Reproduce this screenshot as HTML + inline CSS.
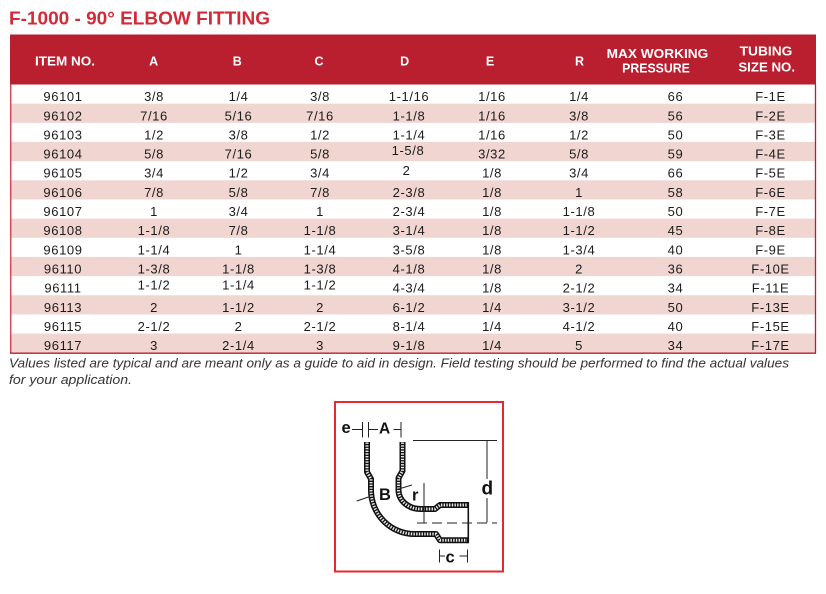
<!DOCTYPE html>
<html>
<head>
<meta charset="utf-8">
<style>
html,body{margin:0;padding:0;background:#fff;}
body{width:826px;height:594px;overflow:hidden;}
svg{display:block;}
.t{font-family:"Liberation Sans",Arial,sans-serif;}
.d{font-family:"Liberation Sans",Arial,sans-serif;font-size:13px;fill:#1c1c1c;letter-spacing:0.6px;text-anchor:middle;}
.h{font-family:"Liberation Sans",Arial,sans-serif;font-size:12.5px;font-weight:bold;fill:#fff;text-anchor:middle;}
.lbl{font-family:"Liberation Sans",Arial,sans-serif;font-weight:bold;fill:#111;}
</style>
</head>
<body>
<svg width="826" height="594" viewBox="0 0 826 594" xmlns="http://www.w3.org/2000/svg">
<rect x="0" y="0" width="826" height="594" fill="#fff"/>
<!-- Title -->
<text class="t" x="9" y="24.5" font-size="18.5" font-weight="bold" fill="#d32a37" textLength="261" lengthAdjust="spacingAndGlyphs">F-1000 - 90° ELBOW FITTING</text>

<!-- Header -->
<rect x="10" y="34.5" width="806" height="50" fill="#b91f2e"/>
<text class="h" x="65" y="65.5" textLength="60" lengthAdjust="spacingAndGlyphs">ITEM NO.</text>
<text class="h" x="153.7" y="65.5">A</text>
<text class="h" x="237.3" y="65.5">B</text>
<text class="h" x="319" y="65.5">C</text>
<text class="h" x="404.7" y="65.5">D</text>
<text class="h" x="490" y="65.5">E</text>
<text class="h" x="579.5" y="65.5">R</text>
<text class="h" x="657.5" y="58" textLength="101.6" lengthAdjust="spacingAndGlyphs">MAX  WORKING</text>
<text class="h" x="656" y="72.5" textLength="67.7" lengthAdjust="spacingAndGlyphs">PRESSURE</text>
<text class="h" x="766" y="55.5" textLength="52.7" lengthAdjust="spacingAndGlyphs">TUBING</text>
<text class="h" x="766.7" y="71.5" textLength="56.7" lengthAdjust="spacingAndGlyphs">SIZE NO.</text>

<!-- Row shading -->
<g fill="#f1d5d0">
<rect x="11" y="103.66" width="804" height="19.16"/>
<rect x="11" y="141.98" width="804" height="19.16"/>
<rect x="11" y="180.30" width="804" height="19.16"/>
<rect x="11" y="218.62" width="804" height="19.16"/>
<rect x="11" y="256.94" width="804" height="19.16"/>
<rect x="11" y="295.26" width="804" height="19.16"/>
<rect x="11" y="333.58" width="804" height="19.16"/>
</g>

<!-- Table borders -->
<line x1="10.7" y1="84.5" x2="10.7" y2="353.5" stroke="#d34b58" stroke-width="1.5"/>
<line x1="815.5" y1="84.5" x2="815.5" y2="353.5" stroke="#b81e2e" stroke-width="1.3"/>
<line x1="10" y1="353.2" x2="816" y2="353.2" stroke="#b81e2e" stroke-width="1.3"/>

<!-- Data rows -->
<g>
<text class="d" x="63" y="101.1">96101</text><text class="d" x="154" y="101.1">3/8</text><text class="d" x="238.5" y="101.1">1/4</text><text class="d" x="320" y="101.1">3/8</text><text class="d" x="409" y="101.1">1-1/16</text><text class="d" x="492" y="101.1">1/16</text><text class="d" x="579" y="101.1">1/4</text><text class="d" x="675.5" y="101.1">66</text><text class="d" x="770.5" y="101.1">F-1E</text>
<text class="d" x="63" y="120.26">96102</text><text class="d" x="154" y="120.26">7/16</text><text class="d" x="238.5" y="120.26">5/16</text><text class="d" x="320" y="120.26">7/16</text><text class="d" x="409" y="120.26">1-1/8</text><text class="d" x="492" y="120.26">1/16</text><text class="d" x="579" y="120.26">3/8</text><text class="d" x="675.5" y="120.26">56</text><text class="d" x="770.5" y="120.26">F-2E</text>
<text class="d" x="63" y="139.42">96103</text><text class="d" x="154" y="139.42">1/2</text><text class="d" x="238.5" y="139.42">3/8</text><text class="d" x="320" y="139.42">1/2</text><text class="d" x="409" y="139.42">1-1/4</text><text class="d" x="492" y="139.42">1/16</text><text class="d" x="579" y="139.42">1/2</text><text class="d" x="675.5" y="139.42">50</text><text class="d" x="770.5" y="139.42">F-3E</text>
<text class="d" x="63" y="158.58">96104</text><text class="d" x="154" y="158.58">5/8</text><text class="d" x="238.5" y="158.58">7/16</text><text class="d" x="320" y="158.58">5/8</text><text class="d" x="408" y="155.1">1-5/8</text><text class="d" x="492" y="158.58">3/32</text><text class="d" x="579" y="158.58">5/8</text><text class="d" x="675.5" y="158.58">59</text><text class="d" x="770.5" y="158.58">F-4E</text>
<text class="d" x="63" y="177.74">96105</text><text class="d" x="154" y="177.74">3/4</text><text class="d" x="238.5" y="177.74">1/2</text><text class="d" x="320" y="177.74">3/4</text><text class="d" x="406.5" y="175.2">2</text><text class="d" x="492" y="177.74">1/8</text><text class="d" x="579" y="177.74">3/4</text><text class="d" x="675.5" y="177.74">66</text><text class="d" x="770.5" y="177.74">F-5E</text>
<text class="d" x="63" y="196.9">96106</text><text class="d" x="154" y="196.9">7/8</text><text class="d" x="238.5" y="196.9">5/8</text><text class="d" x="320" y="196.9">7/8</text><text class="d" x="409" y="196.9">2-3/8</text><text class="d" x="492" y="196.9">1/8</text><text class="d" x="579" y="196.9">1</text><text class="d" x="675.5" y="196.9">58</text><text class="d" x="770.5" y="196.9">F-6E</text>
<text class="d" x="63" y="216.06">96107</text><text class="d" x="154" y="216.06">1</text><text class="d" x="238.5" y="216.06">3/4</text><text class="d" x="320" y="216.06">1</text><text class="d" x="409" y="216.06">2-3/4</text><text class="d" x="492" y="216.06">1/8</text><text class="d" x="579" y="216.06">1-1/8</text><text class="d" x="675.5" y="216.06">50</text><text class="d" x="770.5" y="216.06">F-7E</text>
<text class="d" x="63" y="235.22">96108</text><text class="d" x="154" y="235.22">1-1/8</text><text class="d" x="238.5" y="235.22">7/8</text><text class="d" x="320" y="235.22">1-1/8</text><text class="d" x="409" y="235.22">3-1/4</text><text class="d" x="492" y="235.22">1/8</text><text class="d" x="579" y="235.22">1-1/2</text><text class="d" x="675.5" y="235.22">45</text><text class="d" x="770.5" y="235.22">F-8E</text>
<text class="d" x="63" y="254.38">96109</text><text class="d" x="154" y="254.38">1-1/4</text><text class="d" x="238.5" y="254.38">1</text><text class="d" x="320" y="254.38">1-1/4</text><text class="d" x="409" y="254.38">3-5/8</text><text class="d" x="492" y="254.38">1/8</text><text class="d" x="579" y="254.38">1-3/4</text><text class="d" x="675.5" y="254.38">40</text><text class="d" x="770.5" y="254.38">F-9E</text>
<text class="d" x="63" y="273.54">96110</text><text class="d" x="154" y="273.54">1-3/8</text><text class="d" x="238.5" y="273.54">1-1/8</text><text class="d" x="320" y="273.54">1-3/8</text><text class="d" x="409" y="273.54">4-1/8</text><text class="d" x="492" y="273.54">1/8</text><text class="d" x="579" y="273.54">2</text><text class="d" x="675.5" y="273.54">36</text><text class="d" x="770.5" y="273.54">F-10E</text>
<text class="d" x="63" y="292.7">96111</text><text class="d" x="154" y="289.5">1-1/2</text><text class="d" x="238.5" y="289.5">1-1/4</text><text class="d" x="320" y="289.5">1-1/2</text><text class="d" x="409" y="292.7">4-3/4</text><text class="d" x="492" y="292.7">1/8</text><text class="d" x="579" y="292.7">2-1/2</text><text class="d" x="675.5" y="292.7">34</text><text class="d" x="770.5" y="292.7">F-11E</text>
<text class="d" x="63" y="311.86">96113</text><text class="d" x="154" y="311.86">2</text><text class="d" x="238.5" y="311.86">1-1/2</text><text class="d" x="320" y="311.86">2</text><text class="d" x="409" y="311.86">6-1/2</text><text class="d" x="492" y="311.86">1/4</text><text class="d" x="579" y="311.86">3-1/2</text><text class="d" x="675.5" y="311.86">50</text><text class="d" x="770.5" y="311.86">F-13E</text>
<text class="d" x="63" y="331.02">96115</text><text class="d" x="154" y="331.02">2-1/2</text><text class="d" x="238.5" y="331.02">2</text><text class="d" x="320" y="331.02">2-1/2</text><text class="d" x="409" y="331.02">8-1/4</text><text class="d" x="492" y="331.02">1/4</text><text class="d" x="579" y="331.02">4-1/2</text><text class="d" x="675.5" y="331.02">40</text><text class="d" x="770.5" y="331.02">F-15E</text>
<text class="d" x="63" y="350.18">96117</text><text class="d" x="154" y="350.18">3</text><text class="d" x="238.5" y="350.18">2-1/4</text><text class="d" x="320" y="350.18">3</text><text class="d" x="409" y="350.18">9-1/8</text><text class="d" x="492" y="350.18">1/4</text><text class="d" x="579" y="350.18">5</text><text class="d" x="675.5" y="350.18">34</text><text class="d" x="770.5" y="350.18">F-17E</text>
</g>

<!-- Footnote -->
<text class="t" x="9" y="367.5" font-size="12.5" font-style="italic" fill="#333" textLength="780" lengthAdjust="spacingAndGlyphs">Values listed are typical and are meant only as a guide to aid in design. Field testing should be performed to find the actual values</text>
<text class="t" x="9" y="384" font-size="12.5" font-style="italic" fill="#333" textLength="123" lengthAdjust="spacingAndGlyphs">for your application.</text>

<!-- Diagram box -->
<rect x="335" y="402" width="168" height="169.5" fill="#fff" stroke="#e42a2f" stroke-width="2"/>

<!-- Pipe walls -->
<g fill="none" stroke-linejoin="round">
<path d="M367,442 L367,472 L371,479 L371,490 A43.5,44 0 0 0 414.5,534 L436,534 L440,540.3 L468,540.3" stroke="#111" stroke-width="6"/>
<path d="M402.5,442 L402.5,471 L398.5,478 L398.5,490 A22,19 0 0 0 420.5,509 L435,509 L440,505 L468,505" stroke="#111" stroke-width="6"/>
<path d="M367,442.5 L367,472 L371,479 L371,490 A43.5,44 0 0 0 414.5,534 L436,534 L440,540.3 L467,540.3" stroke="#e8e8e8" stroke-width="3" stroke-dasharray="1.4 1.3"/>
<path d="M402.5,442.5 L402.5,471 L398.5,478 L398.5,490 A22,19 0 0 0 420.5,509 L435,509 L440,505 L467,505" stroke="#e8e8e8" stroke-width="3" stroke-dasharray="1.4 1.3"/>
</g>
<line x1="468.3" y1="502" x2="468.3" y2="543.3" stroke="#111" stroke-width="1.6"/>

<!-- Dimensions -->
<g stroke="#222" stroke-width="1" fill="none">
<line x1="352" y1="429.5" x2="362" y2="429.5"/>
<line x1="362.5" y1="422" x2="362.5" y2="437.5"/>
<line x1="368.5" y1="422" x2="368.5" y2="437.5"/>
<line x1="369" y1="429.5" x2="378" y2="429.5"/>
<line x1="393.5" y1="429.5" x2="400.5" y2="429.5"/>
<line x1="401" y1="422" x2="401" y2="437.5"/>
<line x1="413" y1="440.5" x2="497" y2="440.5"/>
<line x1="487" y1="440.5" x2="487" y2="479"/>
<line x1="487" y1="498" x2="487" y2="522.5"/>
<line x1="417" y1="523" x2="497" y2="523" stroke-dasharray="10 5"/>
<line x1="424" y1="483" x2="424" y2="523"/>
<line x1="356.7" y1="501" x2="370" y2="496.5"/>
<line x1="397" y1="489.5" x2="412" y2="485"/>
<line x1="439.5" y1="549.5" x2="439.5" y2="562.5"/>
<line x1="467.5" y1="549.5" x2="467.5" y2="562.5"/>
<line x1="440" y1="556" x2="445" y2="556"/>
<line x1="459.5" y1="556" x2="467" y2="556"/>
</g>
<text class="lbl" x="341.5" y="433" font-size="16.5">e</text>
<text class="lbl" x="379" y="433.5" font-size="15.5">A</text>
<text class="lbl" x="379" y="500" font-size="16.5">B</text>
<text class="lbl" x="412" y="500.5" font-size="16.5">r</text>
<text class="lbl" x="481.5" y="494.5" font-size="19">d</text>
<text class="lbl" x="445.5" y="562.5" font-size="16.5">c</text>
</svg>
</body>
</html>
